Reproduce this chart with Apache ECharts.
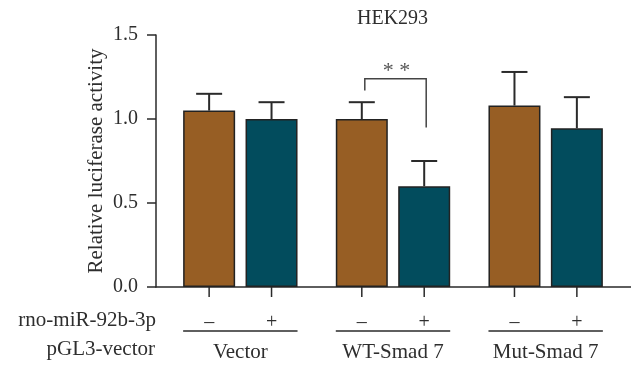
<!DOCTYPE html>
<html>
<head>
<meta charset="utf-8">
<script src="https://cdn.jsdelivr.net/npm/echarts@6/dist/echarts.min.js"></script>
<style>
    html, body { margin: 0; padding: 0; background: #fff; }
    #chart { width: 631px; height: 366px; }
</style>
</head>
<body>
<div id="chart"></div>
<script>
    // data
    const groups = ['Vector', 'WT-Smad 7', 'Mut-Smad 7']
    const signs = ['\u2013', '+']
    const ctrlValues = [1.05, 1.0, 1.08]
    const ctrlErrors = [0.10, 0.10, 0.20]
    const mimicValues = [1.0, 0.60, 0.945]
    const mimicErrors = [0.10, 0.15, 0.185]
    const yTicks = [0, 0.5, 1.0, 1.5]
    // bracket: group index, top, left leg bottom, right leg bottom
    const sigBracket = [[1, 1.24, 1.17, 0.95]]
    const sigLabel = '* *'

    const FONT = '"Liberation Serif", "DejaVu Serif", serif'
    const TEXT = '#2e2e2e'
    const LINE = '#2a2a2a'
    const BAR_W = 52
    const GAP = 0.2
    const HALF_STEP = BAR_W * (1 + GAP) / 2

    const chartDom = document.getElementById('chart')
    const myChart = echarts.init(chartDom)

    // bar centre in pixels for group i, side -1 / +1
    function barX(api, i, side) {
        return api.coord([i, 0])[0] + side * HALF_STEP
    }

    function errorItem(side, errors) {
        return function (params, api) {
            const i = api.value(0)
            const v = api.value(1)
            const x = barX(api, i, side)
            const top = api.coord([i, v])[1]
            const end = api.coord([i, v + errors[i]])[1]
            const style = { stroke: LINE, lineWidth: 2 }
            return {
                type: 'group',
                children: [
                    { type: 'line', shape: { x1: x, y1: top, x2: x, y2: end }, style: style },
                    { type: 'line', shape: { x1: x - 13, y1: end, x2: x + 13, y2: end }, style: style }
                ]
            }
        }
    }

    const option = {
        animation: false,
        title: {
            text: 'HEK293',
            left: 352,
            top: 4,
            textStyle: { fontFamily: FONT, fontSize: 20, fontWeight: 'normal', color: TEXT }
        },
        grid: [
            { left: 156, right: 0, top: 35, height: 252 },
            { left: 164, right: 9, top: 35, height: 252 }
        ],
        xAxis: [
            {
                type: 'value',
                gridIndex: 0,
                axisLine: { show: true, lineStyle: { color: LINE, width: 1.5 } },
                axisTick: { show: false },
                axisLabel: { show: false },
                splitLine: { show: false }
            },
            {
                type: 'category',
                gridIndex: 1,
                data: groups,
                axisLine: { show: false },
                axisTick: { show: false },
                axisLabel: { show: false }
            }
        ],
        yAxis: [
            {
                type: 'value',
                gridIndex: 0,
                min: yTicks[0],
                max: yTicks[yTicks.length - 1],
                interval: 0.5,
                name: 'Relative luciferase activity',
                nameLocation: 'middle',
                nameGap: 49,
                nameMoveOverlap: false,
                nameTextStyle: { fontFamily: FONT, fontSize: 21, color: TEXT },
                axisLine: { show: true, lineStyle: { color: LINE, width: 1.5 } },
                axisTick: { show: true, length: 9, lineStyle: { color: LINE, width: 1.5 } },
                axisLabel: {
                    margin: 18,
                    fontFamily: FONT,
                    fontSize: 20,
                    color: TEXT,
                    formatter: v => v.toFixed(1)
                },
                splitLine: { show: false }
            },
            {
                type: 'value',
                gridIndex: 1,
                min: yTicks[0],
                max: yTicks[yTicks.length - 1],
                show: false
            }
        ],
        graphic: [
            {
                type: 'text',
                right: 631 - 156,
                top: 310,
                style: { text: 'rno-miR-92b-3p', font: '21px ' + FONT, fill: TEXT }
            },
            {
                type: 'text',
                right: 631 - 155,
                top: 339,
                style: { text: 'pGL3-vector', font: '21px ' + FONT, fill: TEXT }
            }
        ],
        series: [
            {
                type: 'bar',
                xAxisIndex: 1,
                yAxisIndex: 1,
                data: ctrlValues,
                barWidth: BAR_W,
                barGap: GAP * 100 + '%',
                itemStyle: { color: '#975e24', borderColor: '#222', borderWidth: 1.5 }
            },
            {
                type: 'bar',
                xAxisIndex: 1,
                yAxisIndex: 1,
                data: mimicValues,
                barWidth: BAR_W,
                itemStyle: { color: '#024c5d', borderColor: '#222', borderWidth: 1.5 }
            },
            {
                type: 'custom',
                xAxisIndex: 1,
                yAxisIndex: 1,
                data: ctrlValues.map((v, i) => [i, v]),
                renderItem: errorItem(-1, ctrlErrors),
                z: 3
            },
            {
                type: 'custom',
                xAxisIndex: 1,
                yAxisIndex: 1,
                data: mimicValues.map((v, i) => [i, v]),
                renderItem: errorItem(1, mimicErrors),
                z: 3
            },
            {
                // ticks, +/- row, underline and group names below the axis
                type: 'custom',
                xAxisIndex: 1,
                yAxisIndex: 1,
                clip: false,
                data: groups.map((g, i) => [i, 0]),
                renderItem: function (params, api) {
                    const i = api.value(0)
                    const y0 = api.coord([i, 0])[1]
                    const cx = api.coord([i, 0])[0]
                    const children = []
                    ;[-1, 1].forEach(function (side, k) {
                        const x = barX(api, i, side)
                        children.push({
                            type: 'line',
                            shape: { x1: x, y1: y0, x2: x, y2: y0 + 10 },
                            style: { stroke: LINE, lineWidth: 1.5 }
                        })
                        children.push({
                            type: 'text',
                            x: x,
                            y: y0 + 36,
                            style: {
                                text: signs[k], font: '20px ' + FONT, fill: TEXT,
                                align: 'center', verticalAlign: 'middle'
                            }
                        })
                    })
                    children.push({
                        type: 'line',
                        shape: {
                            x1: barX(api, i, -1) - BAR_W / 2, y1: y0 + 44,
                            x2: barX(api, i, 1) + BAR_W / 2, y2: y0 + 44
                        },
                        style: { stroke: LINE, lineWidth: 1.5 }
                    })
                    children.push({
                        type: 'text',
                        x: cx,
                        y: y0 + 65,
                        style: {
                            text: groups[i], font: '21px ' + FONT, fill: TEXT,
                            align: 'center', verticalAlign: 'middle'
                        }
                    })
                    return { type: 'group', children: children }
                }
            },
            {
                // significance bracket
                type: 'custom',
                xAxisIndex: 1,
                yAxisIndex: 1,
                data: sigBracket,
                renderItem: function (params, api) {
                    const i = api.value(0)
                    const xl = barX(api, i, -1) + 3
                    const xr = barX(api, i, 1) + 2
                    const yt = api.coord([i, api.value(1)])[1]
                    const yl = api.coord([i, api.value(2)])[1]
                    const yr = api.coord([i, api.value(3)])[1]
                    return {
                        type: 'group',
                        children: [
                            {
                                type: 'polyline',
                                shape: { points: [[xl, yl], [xl, yt], [xr, yt], [xr, yr]] },
                                style: { stroke: '#444', lineWidth: 1.5, fill: null }
                            },
                            {
                                type: 'text',
                                x: (xl + xr) / 2 + 1,
                                y: yt + 4,
                                style: {
                                    text: sigLabel, font: '22px ' + FONT, fill: '#555',
                                    align: 'center', verticalAlign: 'bottom'
                                }
                            }
                        ]
                    }
                }
            }
        ]
    }

    window.addEventListener('resize', () => {
        myChart.resize()
    })
    option && myChart.setOption(option)
</script>
</body>
</html>
